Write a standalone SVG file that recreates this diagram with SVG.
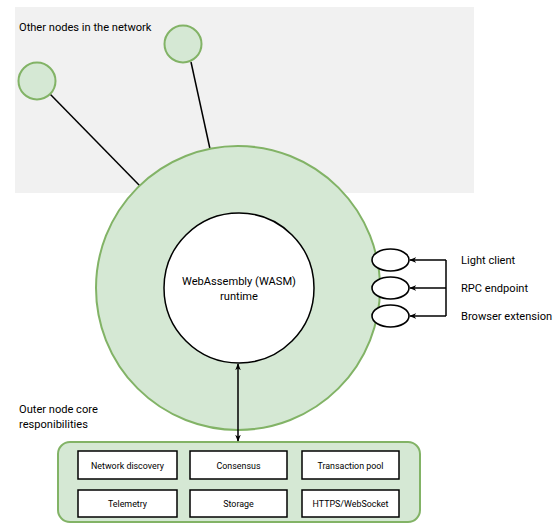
<svg xmlns="http://www.w3.org/2000/svg" width="556" height="525" viewBox="0 0 556 525">
  <style>
    text { font-family: Roboto, "Liberation Sans", sans-serif; font-size: 11.1px; fill: #000; }
    .cell { font-size: 8.9px; text-anchor: middle; }
    .green { fill: #d5e8d4; stroke: #82b366; stroke-width: 2; }
    .box { fill: #ffffff; stroke: #000; stroke-width: 1.5; }
    .port { fill: #ffffff; stroke: #000; stroke-width: 1.6; }
    .link { stroke: #000; stroke-width: 1.5; fill: none; }
  </style>
  <defs>
    <marker id="arrow" viewBox="0 0 10 10" refX="9" refY="5" markerWidth="7" markerHeight="7" orient="auto-start-reverse" markerUnits="userSpaceOnUse">
      <path d="M0,1 L10,5 L0,9 L3,5 Z" fill="#000"/>
    </marker>
  </defs>

  <!-- network area -->
  <g id="network-area">
    <rect x="15" y="7" width="459" height="186" fill="#f1f1f1"/>
    <text x="19" y="31">Other nodes in the network</text>
  </g>

  <!-- connectors -->
  <g id="connectors">
    <line class="link" x1="50" y1="94" x2="140" y2="186"/>
    <line class="link" x1="191" y1="62" x2="210" y2="149"/>
    <path class="link" d="M446,260 L446,316"/>
    <line class="link" x1="446" y1="260" x2="410" y2="260" marker-end="url(#arrow)"/>
    <line class="link" x1="446" y1="288" x2="410" y2="288" marker-end="url(#arrow)"/>
    <line class="link" x1="446" y1="316" x2="410" y2="316" marker-end="url(#arrow)"/>
  </g>

  <g id="peer-node-1"><circle class="green" cx="37" cy="81" r="18.5"/></g>
  <g id="peer-node-2"><circle class="green" cx="183" cy="44" r="18.5"/></g>

  <!-- outer node -->
  <g id="outer-node">
    <circle class="green" cx="238" cy="288" r="142"/>
  </g>

  <g id="wasm-runtime">
    <circle cx="239" cy="288" r="75" fill="#ffffff" stroke="#000" stroke-width="1.5"/>
    <text x="239" y="285" text-anchor="middle">WebAssembly (WASM)</text>
    <text x="239" y="300" text-anchor="middle">runtime</text>
  </g>

  <g id="port-light-client">
    <ellipse class="port" cx="390.5" cy="260" rx="18.5" ry="11"/>
    <text x="461" y="264">Light client</text>
  </g>
  <g id="port-rpc">
    <ellipse class="port" cx="390.5" cy="288" rx="18.5" ry="11"/>
    <text x="461" y="292">RPC endpoint</text>
  </g>
  <g id="port-browser">
    <ellipse class="port" cx="390.5" cy="316" rx="18.5" ry="11"/>
    <text x="461" y="320">Browser extension</text>
  </g>

  <g id="core-label">
    <text x="19" y="413">Outer node core</text>
    <text x="19" y="428">responibilities</text>
  </g>

  <!-- core responsibilities -->
  <g id="core-container">
    <rect class="green" x="58" y="442" width="362" height="80" rx="12"/>
  </g>
  <g id="network-discovery">
    <rect class="box" x="78" y="451" width="99" height="28"/>
    <text class="cell" x="127.5" y="469">Network discovery</text>
  </g>
  <g id="consensus">
    <rect class="box" x="190" y="451" width="97" height="28"/>
    <text class="cell" x="238.5" y="469">Consensus</text>
  </g>
  <g id="transaction-pool">
    <rect class="box" x="302" y="451" width="97" height="28"/>
    <text class="cell" x="350.5" y="469">Transaction pool</text>
  </g>
  <g id="telemetry">
    <rect class="box" x="78" y="490" width="99" height="27"/>
    <text class="cell" x="127.5" y="507">Telemetry</text>
  </g>
  <g id="storage">
    <rect class="box" x="190" y="490" width="97" height="27"/>
    <text class="cell" x="238.5" y="507">Storage</text>
  </g>
  <g id="https-websocket">
    <rect class="box" x="302" y="490" width="97" height="27"/>
    <text class="cell" x="350.5" y="507">HTTPS/WebSocket</text>
  </g>

  <g id="runtime-link">
    <line class="link" x1="238" y1="364" x2="238" y2="441" marker-start="url(#arrow)" marker-end="url(#arrow)"/>
  </g>
</svg>
